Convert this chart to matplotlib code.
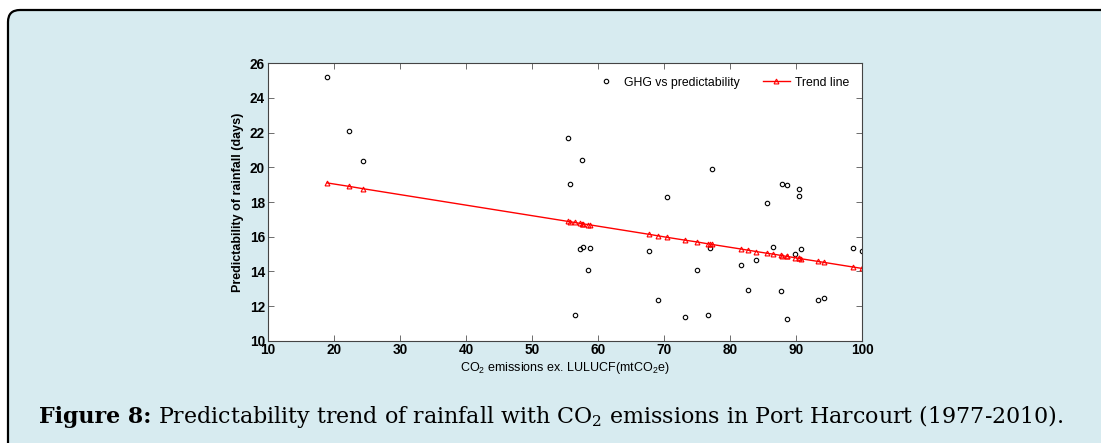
import matplotlib.pyplot as plt
import matplotlib.patches as patches
from matplotlib.transforms import IdentityTransform

plt.rcParams['font.family'] = ['Liberation Sans Narrow', 'Liberation Sans', 'DejaVu Sans']
plt.rcParams['mathtext.default'] = 'regular'

# Datos: emisiones de CO2 vs predictibilidad
emisiones = [19.0, 22.35, 24.38, 55.47, 57.63, 55.77, 77.28, 70.48, 87.86, 88.56,
             90.38, 90.48, 85.64, 57.23, 57.73, 58.79, 58.44, 56.47, 67.66, 74.91,
             69.07, 73.15, 76.62, 76.93, 86.55, 81.61, 83.98, 82.72, 87.66, 88.56,
             89.82, 90.68, 93.35, 94.16, 98.59, 99.95]
predictibilidad = [25.22, 22.12, 20.38, 21.67, 20.44, 19.04, 19.92, 18.29, 19.04, 19.0,
                   18.75, 18.33, 17.92, 15.27, 15.40, 15.37, 14.06, 11.48, 15.15, 14.06,
                   12.37, 11.37, 11.48, 15.37, 15.40, 14.37, 14.67, 12.92, 12.88, 11.25,
                   15.02, 15.27, 12.37, 12.46, 15.33, 15.15]
tendencia = [19.10, 18.90, 18.77, 16.88, 16.75, 16.86, 15.55, 15.96, 14.91, 14.86,
             14.75, 14.75, 15.04, 16.77, 16.74, 16.68, 16.70, 16.82, 16.14, 15.70,
             16.05, 15.80, 15.59, 15.57, 14.99, 15.29, 15.14, 15.22, 14.92, 14.86,
             14.79, 14.73, 14.57, 14.52, 14.25, 14.17]

xticks = [10, 20, 30, 40, 50, 60, 70, 80, 90, 100]
yticks = [10, 12, 14, 16, 18, 20, 22, 24, 26]

W, H = 1101, 443
fig = plt.figure(figsize=(W / 100, H / 100), dpi=100, facecolor='white')

# Caja de fondo con esquinas redondeadas
caja = patches.FancyBboxPatch((8, -30), 1140, 433 + 30, boxstyle='round,pad=0,rounding_size=12',
                              transform=IdentityTransform(), facecolor='#d7ebf0',
                              edgecolor='black', linewidth=1.6, zorder=-10)
fig.add_artist(caja)

ax = fig.add_axes([267.7 / W, 1 - 340.7 / H, (862.3 - 267.7) / W, (340.7 - 63.3) / H])
ax.set_facecolor('white')
ax.set_zorder(1)

orden = sorted(range(len(emisiones)), key=lambda i: emisiones[i])
ax.plot(emisiones, predictibilidad, linestyle='none', marker='o', markersize=3.2,
        markerfacecolor='none', markeredgecolor='black', markeredgewidth=0.8,
        label='GHG vs predictability')
ax.plot([emisiones[i] for i in orden], [tendencia[i] for i in orden], color='red',
        linewidth=1.0, marker='^', markersize=3.5, markerfacecolor='none',
        markeredgecolor='red', markeredgewidth=0.8, label='Trend line')

ax.set_xlim(10, 100)
ax.set_ylim(10, 26)
ax.set_xticks(xticks)
ax.set_yticks(yticks)
ax.tick_params(direction='in', length=4, width=0.6, color='#555555', top=True, right=True,
               labelsize=9.8, pad=2)
for lab in ax.get_xticklabels() + ax.get_yticklabels():
    lab.set_fontweight('bold')
for s in ax.spines.values():
    s.set_color('#444444')
    s.set_linewidth(0.8)

ax.set_xlabel(r'CO$_2$ emissions ex. LULUCF(mtCO$_2$e)', fontsize=9, labelpad=2)
ax.set_ylabel('Predictability of rainfall (days)', fontsize=9, fontweight='bold', labelpad=4)

ax.legend(loc='upper right', ncol=2, frameon=False, fontsize=8.8, handlelength=2.2,
          columnspacing=1.9, handletextpad=0.4, borderaxespad=0.7, numpoints=1)

# Pie de figura
t1 = fig.text(39 / W, 1 - 423 / H, 'Figure 8:', fontsize=15.9, fontweight='bold',
              family=['DejaVu Serif'], va='baseline', ha='left')
t2 = fig.text(0, 1 - 423 / H,
              ' Predictability trend of rainfall with CO$_2$ emissions in Port Harcourt (1977-2010).',
              fontsize=15.9, family=['DejaVu Serif'], va='baseline', ha='left')
# colocar el resto justo despues del texto en negrita
fig.canvas.draw()
bb = t1.get_window_extent()
t2.set_position((bb.x1 / W, 1 - 423 / H))

fig.savefig('out.png', dpi=100, facecolor='white')
